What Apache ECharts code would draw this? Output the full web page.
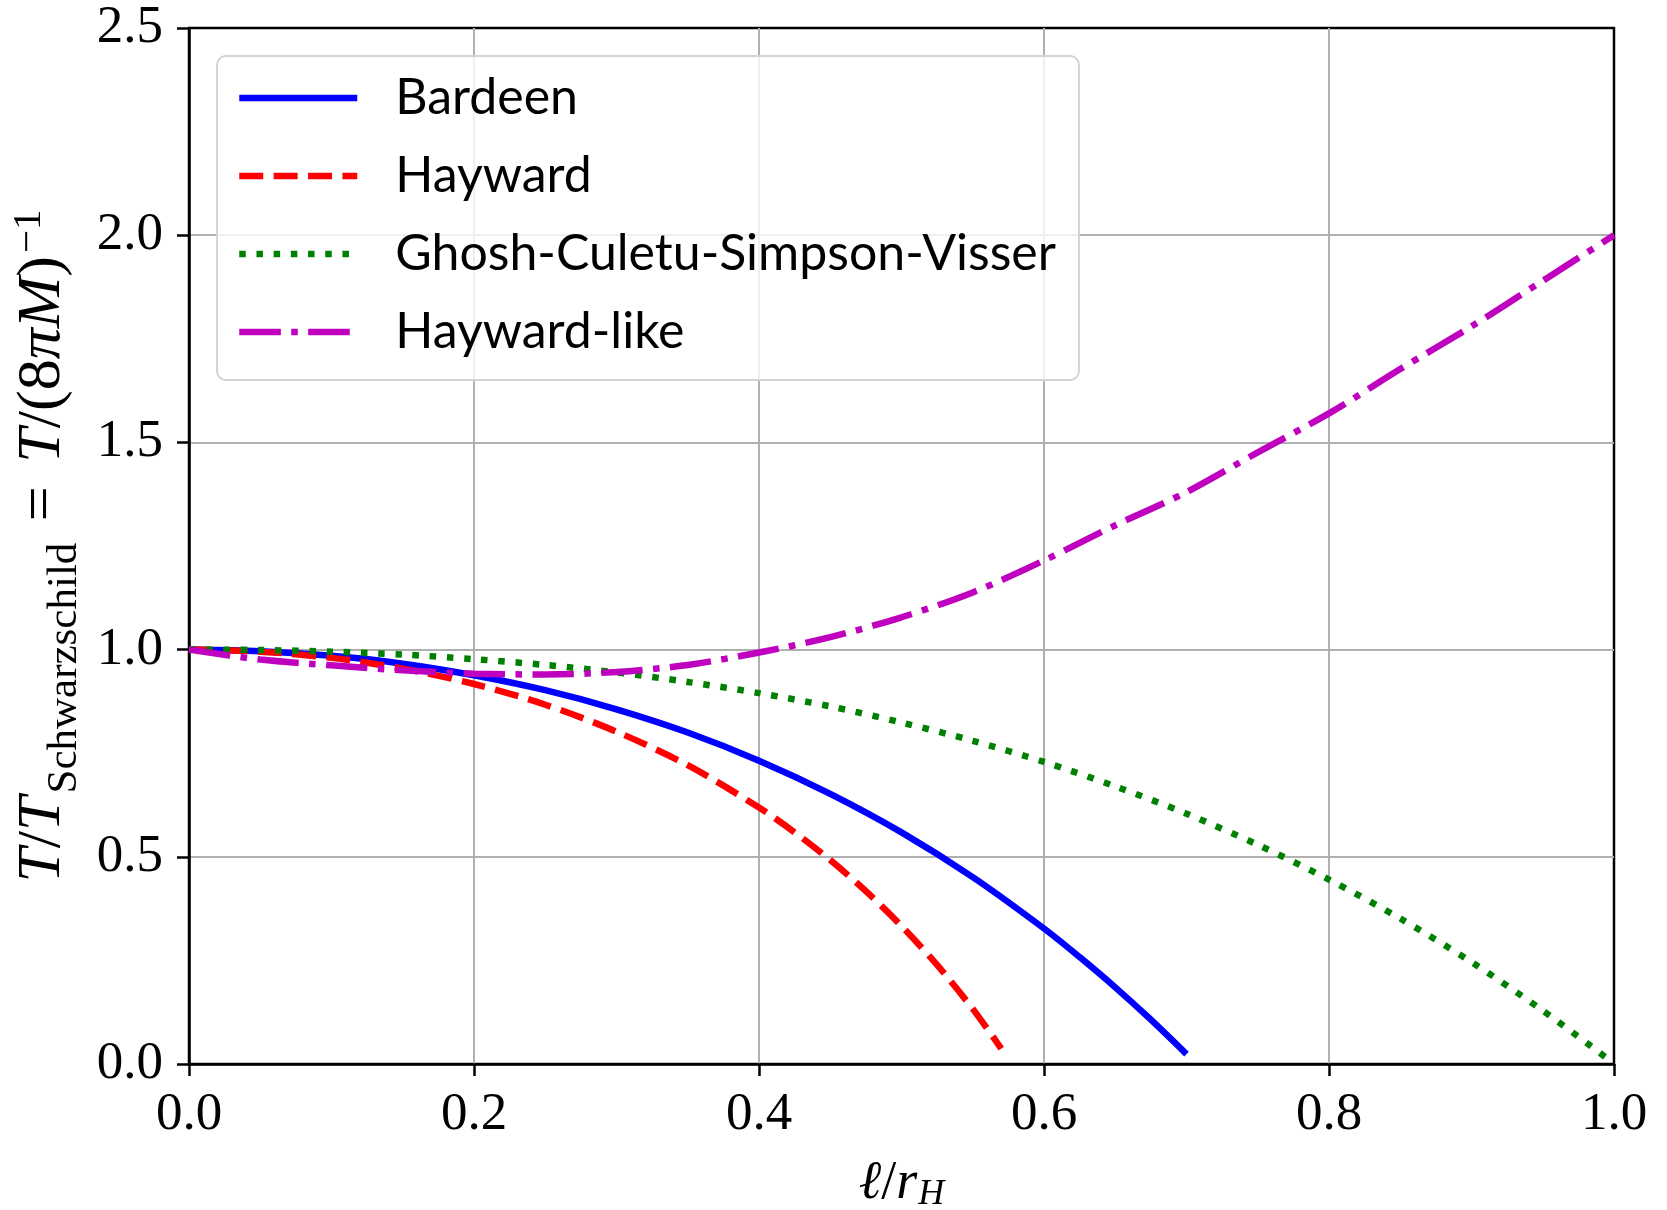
<!DOCTYPE html>
<html>
<head>
<meta charset="utf-8">
<script src="https://cdn.jsdelivr.net/npm/echarts@6/dist/echarts.min.js"></script>
<style>
html,body{margin:0;padding:0;background:#fff;}
#chart{width:1667px;height:1210px;}
</style>
</head>
<body>
<div id="chart"></div>
<script>
// ---- data ----
const seriesNames = ['Bardeen', 'Hayward', 'Ghosh-Culetu-Simpson-Visser', 'Hayward-like'];

const xBardeen = [0, 0.05, 0.10, 0.15, 0.20, 0.25, 0.30, 0.35, 0.40, 0.45, 0.50, 0.55, 0.60, 0.625, 0.65, 0.675, 0.70];
const yBardeen = [1.000, 0.996, 0.985, 0.966, 0.938, 0.902, 0.856, 0.800, 0.732, 0.652, 0.559, 0.451, 0.327, 0.258, 0.185, 0.107, 0.024];

const xHayward = [0, 0.05, 0.10, 0.15, 0.20, 0.25, 0.30, 0.35, 0.40, 0.425, 0.45, 0.475, 0.50, 0.525, 0.55, 0.57];
const yHayward = [1.000, 0.995, 0.980, 0.954, 0.917, 0.867, 0.802, 0.721, 0.619, 0.559, 0.492, 0.417, 0.333, 0.239, 0.133, 0.037];

const xGCSV = [0, 0.05, 0.10, 0.15, 0.20, 0.25, 0.30, 0.35, 0.40, 0.45, 0.50, 0.55, 0.60, 0.65, 0.70, 0.75, 0.80, 0.85, 0.90, 0.95, 0.995];
const yGCSV = [1.000, 0.999, 0.995, 0.988, 0.977, 0.963, 0.945, 0.922, 0.895, 0.863, 0.824, 0.780, 0.729, 0.670, 0.604, 0.529, 0.445, 0.351, 0.246, 0.129, 0.014];

const xHaywardLike = [0, 0.05, 0.10, 0.15, 0.20, 0.25, 0.30, 0.35, 0.40, 0.45, 0.50, 0.55, 0.60, 0.65, 0.70, 0.75, 0.80, 0.85, 0.90, 0.95, 1.00];
const yHaywardLike = [1.000, 0.976, 0.962, 0.950, 0.942, 0.940, 0.946, 0.963, 0.993, 1.030, 1.078, 1.138, 1.215, 1.300, 1.380, 1.476, 1.570, 1.677, 1.780, 1.890, 2.000];

const xTicks = [0.0, 0.2, 0.4, 0.6, 0.8, 1.0];
const yTicks = [0.0, 0.5, 1.0, 1.5, 2.0, 2.5];

// ---- styles ----
const LW = 6.5;
const serif = '"Liberation Serif", "DejaVu Serif", serif';
const pair = (xs, ys) => xs.map((x, i) => [x, ys[i]]);

const chart = echarts.init(document.getElementById('chart'), null, {renderer: 'canvas'});

const mathRich = {
  i: {fontFamily: serif, fontStyle: 'italic', fontSize: 62, lineHeight: 68, color: '#000', verticalAlign: 'middle'},
  r: {fontFamily: serif, fontSize: 62, lineHeight: 68, color: '#000', verticalAlign: 'middle'},
  eq: {fontFamily: serif, fontSize: 62, lineHeight: 68, color: '#000', verticalAlign: 'middle', padding: [0, 8, 0, 6]},
  sub: {fontFamily: serif, fontSize: 43, lineHeight: 43, padding: [43, 0, 0, 3], color: '#000', verticalAlign: 'middle'},
  sup: {fontFamily: serif, fontSize: 41, lineHeight: 41, padding: [0, 0, 27, 3], color: '#000', verticalAlign: 'middle'},
  xi: {fontFamily: serif, fontStyle: 'italic', fontSize: 54, lineHeight: 60, color: '#000', verticalAlign: 'middle'},
  xr: {fontFamily: serif, fontSize: 54, lineHeight: 60, color: '#000', verticalAlign: 'middle'},
  xsub: {fontFamily: serif, fontStyle: 'italic', fontSize: 36, lineHeight: 36, padding: [22, 0, 0, 1], color: '#000', verticalAlign: 'middle'}
};

const styles = [
  {color: '#0000ff', type: 'solid'},
  {color: '#ff0000', type: [24, 10.4]},
  {color: '#008000', type: [6.5, 10.7]},
  {color: '#bf00bf', type: [41.6, 10.4, 6.5, 10.4]}
];
const datas = [pair(xBardeen, yBardeen), pair(xHayward, yHayward), pair(xGCSV, yGCSV), pair(xHaywardLike, yHaywardLike)];

const option = {
  animation: false,
  backgroundColor: '#ffffff',
  grid: {
    left: 189, top: 28, right: 53, bottom: 146,
    containLabel: false,
    outerBoundsMode: 'none',
    show: true, borderColor: '#000', borderWidth: 2.5, backgroundColor: 'transparent'
  },
  legend: {
    orient: 'vertical',
    left: 217, top: 56,
    padding: [17, 23, 23, 19],
    itemGap: 28,
    itemWidth: 118,
    itemHeight: 14,
    backgroundColor: 'rgba(255,255,255,0.8)',
    borderColor: '#d3d3d3',
    borderWidth: 2,
    borderRadius: 9,
    itemStyle: {opacity: 0, borderWidth: 0},
    lineStyle: {width: LW, cap: 'butt'},
    textStyle: {fontFamily: 'Lato, "DejaVu Sans", sans-serif', fontSize: 50, lineHeight: 50, color: '#000', padding: [0, 0, 0, 33]},
    data: seriesNames.map((n, i) => ({name: n, itemStyle: {opacity: 0}, lineStyle: {color: styles[i].color, type: styles[i].type, width: LW, opacity: 1}}))
  },
  xAxis: {
    type: 'value', min: 0, max: 1, interval: 0.2,
    name: '{xi|ℓ}{xr|/}{xi|r}{xsub|H}',
    nameLocation: 'middle', nameGap: 90,
    nameTextStyle: {rich: mathRich},
    axisLine: {show: true, onZero: false, lineStyle: {color: '#000', width: 2.5}},
    axisTick: {show: true, inside: false, length: 12, lineStyle: {color: '#000', width: 2.5}},
    axisLabel: {fontFamily: serif, fontSize: 53, color: '#000', margin: 25, formatter: v => v.toFixed(1)},
    splitLine: {show: true, showMinLine: false, showMaxLine: false, lineStyle: {color: '#b0b0b0', width: 2}}
  },
  yAxis: {
    type: 'value', min: 0, max: 2.5, interval: 0.5,
    name: '{i|T}{r|/}{i|T}{sub|Schwarzschild}{eq| = }{i|T}{r|/(8}{i|π}{i|M}{r|)}{sup|−1}',
    nameLocation: 'middle', nameGap: 88, nameRotate: 90,
    nameTextStyle: {rich: mathRich},
    axisLine: {show: true, onZero: false, lineStyle: {color: '#000', width: 2.5}},
    axisTick: {show: true, inside: false, length: 12, lineStyle: {color: '#000', width: 2.5}},
    axisLabel: {fontFamily: serif, fontSize: 53, color: '#000', margin: 26, formatter: v => v.toFixed(1)},
    splitLine: {show: true, showMinLine: false, showMaxLine: false, lineStyle: {color: '#b0b0b0', width: 2}}
  },
  series: seriesNames.map((n, i) => ({
    name: n,
    type: 'line',
    data: datas[i],
    symbol: 'none',
    showSymbol: false,
    smooth: 0.3,
    clip: true,
    z: 3 + i,
    lineStyle: {color: styles[i].color, width: LW, type: styles[i].type, cap: 'butt'},
    itemStyle: {color: styles[i].color}
  }))
};
chart.setOption(option);
</script>
</body>
</html>
